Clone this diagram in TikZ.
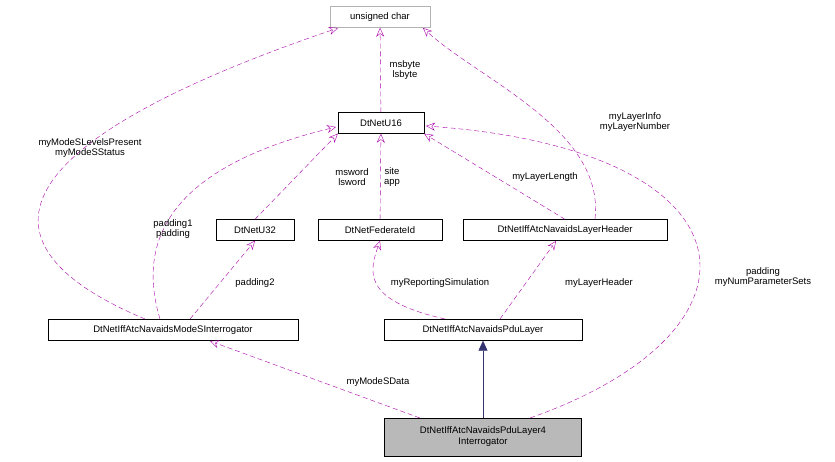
\documentclass[tikz,border=0pt]{standalone}
\usepackage{fontspec}
\setmainfont{Liberation Sans}
\usetikzlibrary{arrows.meta,positioning}

\tikzset{
  cls/.style = {draw, fill=white, inner sep=0pt, minimum height=21pt, font=\fontsize{9.5}{11}\selectfont},
  uses/.style = {draw=violet!70!magenta, dashed, dash pattern=on 5pt off 3pt, -{Stealth[open,length=9pt,width=8pt]}},
  lbl/.style = {font=\fontsize{9.5}{10.5}\selectfont, align=center, inner sep=1pt}
}

\begin{document}
\begin{tikzpicture}[x=1pt, y=-1pt]
  \useasboundingbox (0,0) rectangle (835,461);

  % Classes
  \node[cls, draw=gray!60, minimum width=100pt] (uchar) at (380,17) {unsigned char};
  \node[cls, minimum width=86pt] (u16) at (381,123) {DtNetU16};
  \node[cls, minimum width=78pt] (u32) at (255,230) {DtNetU32};
  \node[cls, minimum width=124pt] (fed) at (380,230) {DtNetFederateId};
  \node[cls, minimum width=204pt] (hdr) at (565,230) {DtNetIffAtcNavaidsLayerHeader};
  \node[cls, minimum width=250pt] (modes) at (173,330) {DtNetIffAtcNavaidsModeSInterrogator};
  \node[cls, minimum width=198pt] (pdu) at (483,330) {DtNetIffAtcNavaidsPduLayer};
  \node[cls, fill=gray!55, minimum width=197pt, minimum height=38pt, align=center] (pdu4) at (483,437)
    {DtNetIffAtcNavaidsPduLayer4\\Interrogator};

  % Members
  \draw[uses] (u16) -- (uchar);
  \node[lbl] (byt) at (405,70) {msbyte\\lsbyte};
  \draw[uses] (u32.north) -- (u16.south west);
  \node[lbl] (wrd) at (352,177) {msword\\lsword};
  \draw[uses] (fed) -- (u16);
  \node[lbl] (sit) at (392,177) {site\\app};
  \draw[uses] (hdr.north) -- (u16.south east);
  \node[lbl] (len) at (545,177) {myLayerLength};
  \draw[uses] (595,219) .. controls (605,130) and (480,80) .. (423,28);
  \node[lbl] (lhi) at (635,122) {myLayerInfo\\myLayerNumber};
  \draw[uses] (145,319) .. controls (-20,250) and (-20,150) .. (338,28);
  \node[lbl] (msl) at (90,148) {myModeSLevelsPresent\\myModeSStatus};
  \draw[uses] (160,319) .. controls (130,220) and (200,160) .. (336,127);
  \node[lbl] (pad1) at (173,229) {padding1\\padding};
  \draw[uses] (190,319) -- (u32.south);
  \node[lbl] (pad2) at (255,283) {padding2};
  \draw[uses] (445,319) .. controls (360,300) and (370,270) .. (fed.south);
  \node[lbl] (rep) at (440,283) {myReportingSimulation};
  \draw[uses] (500,319) -- (556,241);
  \node[lbl] (lh) at (599,283) {myLayerHeader};
  \draw[uses] (530,418) .. controls (780,330) and (760,150) .. (426,126);
  \node[lbl] (nps) at (763,277) {padding\\myNumParameterSets};
  \draw[uses] (420,418) -- (210,341);
  \node[lbl] (msd) at (378,382) {myModeSData};

  % Inheritance
  \draw[draw=blue!30!black!80, -{Triangle[length=10pt,width=9pt]}] (pdu4) -- (pdu);
\end{tikzpicture}
\end{document}
